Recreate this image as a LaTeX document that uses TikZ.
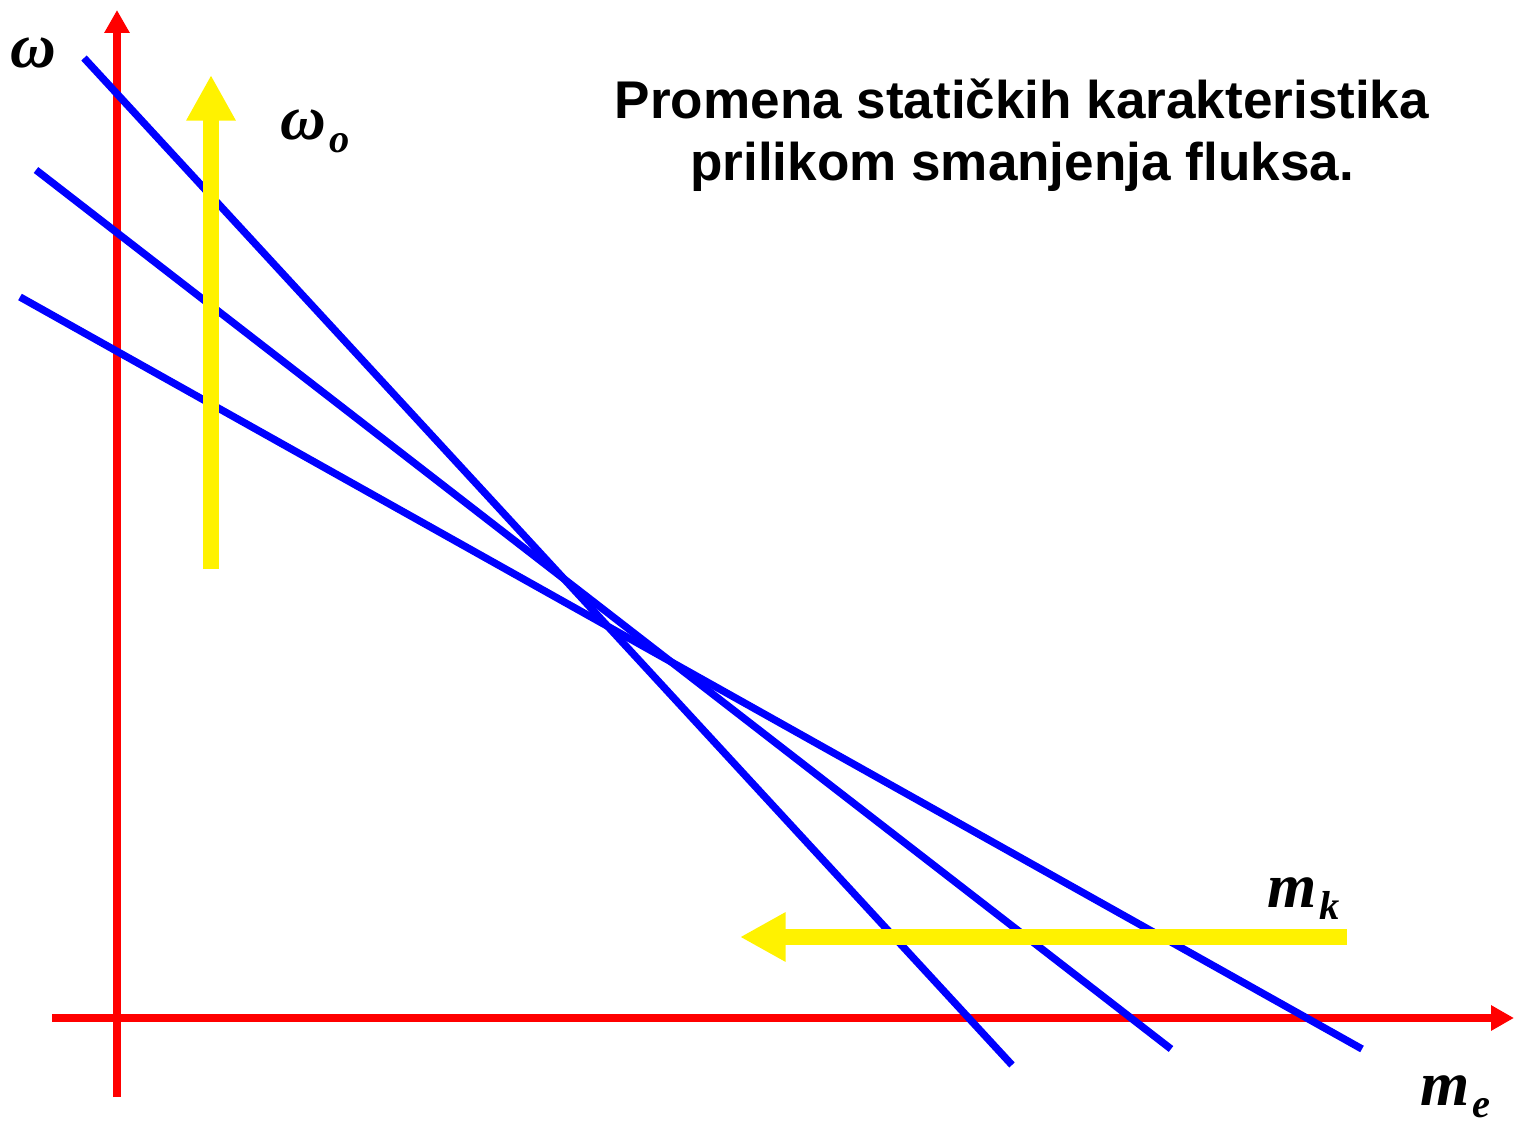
\documentclass[tikz,border=0pt]{standalone}
\usepackage{fontspec}
\usepackage{xcolor}
\usepackage{tikz}
\usetikzlibrary{arrows.meta}
\usetikzlibrary{positioning}
\setmainfont{Liberation Serif}
\newfontfamily\titlefont{Liberation Sans}
\newcommand{\lbl}[2]{{\fontsize{18}{18}\selectfont\bfseries\itshape #1\kern0.8pt\raisebox{-3.6pt}{\fontsize{11.5}{11.5}\selectfont #2}}}

\begin{document}
\begin{tikzpicture}[
  axis/.style={draw=red,line width=2pt,-{Triangle[length=6.5pt,width=6.8pt]}},
  charline/.style={draw=blue,line width=2.1pt},
  shiftarrow/.style={draw=yellow,line width=4.5pt,-{Triangle[length=13pt,width=13.2pt]}},
  lab/.style={anchor=base west,inner sep=0pt}]
\useasboundingbox (0,0) rectangle (15.15,11.25);
% axes
\draw[axis] (1.17,0.28)->(1.17,11.15); \draw[axis] (0.52,1.07)->(15.14,1.07);
% static characteristics
\draw[charline] (0.84,10.67)--(10.12,0.60);
\draw[charline] (0.36,9.55)--(11.71,0.76);
\draw[charline] (0.20,8.28)--(13.62,0.76);
% shifts
\draw[shiftarrow] (2.11,5.56)->(2.11,10.50); \draw[shiftarrow] (13.47,1.88)->(7.40,1.88);
% labels
\node[lab] (w) at (0.10,10.57) {\lbl{ω}{}};
\node[lab] (w0) at (2.80,9.85) {\lbl{ω}{o}};
\node[lab] (mk) at (12.67,2.18) {\lbl{m}{k}};
\node[lab] (me) at (14.20,0.20) {\lbl{m}{e}};
\node[align=center,font=\titlefont\bfseries\fontsize{15.1}{17.6}\selectfont] (title) at (10.22,9.90) {Promena statičkih karakteristika\\prilikom smanjenja fluksa.};
\end{tikzpicture}
\end{document}
